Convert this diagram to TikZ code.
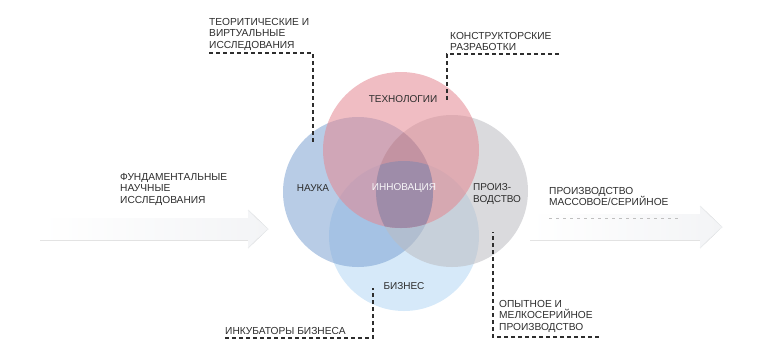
\documentclass[tikz,border=0pt]{standalone}
\usepackage{fontspec}
\setmainfont{Liberation Sans}
\usetikzlibrary{shapes.geometric}
\definecolor{txt}{RGB}{45,45,45}
\definecolor{cTop}{RGB}{228,135,145}
\definecolor{cLeft}{RGB}{125,163,210}
\definecolor{cRight}{RGB}{188,188,193}
\definecolor{cBot}{RGB}{200,226,247}
\definecolor{cCenter}{RGB}{150,140,172}
\definecolor{cLens}{RGB}{178,128,146}
\definecolor{arrowgray}{RGB}{243,244,246}
\definecolor{arrowedge}{RGB}{236,238,240}
\tikzset{
  lab/.style={font=\fontsize{10.2}{11.6}\selectfont, text=txt, align=left, inner sep=0pt, anchor=north west},
  clab/.style={font=\fontsize{10}{12.5}\selectfont, text=txt, align=center, inner sep=0pt},
  leader/.style={draw=txt, line width=1.1pt, dash pattern=on 4pt off 3pt},
  faintleader/.style={draw=black!25, line width=0.6pt, dash pattern=on 3pt off 4pt},
  bigarrow/.style={left color=white, right color=arrowgray, draw=none},
}
\begin{document}
\begin{tikzpicture}[x=1pt,y=-1pt]
\useasboundingbox (0,0) rectangle (764,360);
% faint background arrows
\fill[bigarrow] (40,218) -- (248,218) -- (248,210) -- (268,229) -- (248,248) -- (248,240) -- (40,240) -- cycle;
\draw[arrowedge, line width=0.8pt] (248,210) -- (268,229) -- (248,248);
\fill[bigarrow] (530,214) -- (700,214) -- (700,206) -- (722,227) -- (700,248) -- (700,240) -- (530,240) -- cycle;
\draw[arrowedge, line width=0.8pt] (700,206) -- (722,227) -- (700,248);
% circles
\fill[cBot, fill opacity=0.75] (404,236) circle (75);
\fill[cLeft, fill opacity=0.55] (358,192) circle (75);
\fill[cRight, fill opacity=0.55] (452,191) circle (76);
\fill[cTop, fill opacity=0.55] (401,150) circle (78);
% darker common zone of top, left and right
\begin{scope}
  \clip (358,192) circle (75);
  \clip (452,191) circle (76);
  \clip (401,150) circle (78);
  \fill[cLens, fill opacity=0.4] (300,60) rectangle (500,320);
  \clip (404,236) circle (75);
  \fill[cCenter, fill opacity=0.8] (300,60) rectangle (500,320);
\end{scope}
% labels inside circles
\node[clab] (tech) at (403,99) {ТЕХНОЛОГИИ};
\node[clab] (nauka) at (313,188) {НАУКА};
\node[clab, text=white!92!cCenter] (innov) at (404,188) {ИННОВАЦИЯ};
\node[clab, align=left, anchor=west] (proizv) at (473,194) {ПРОИЗ-\\ВОДСТВО};
\node[clab] (biznes) at (404,286) {БИЗНЕС};
% outer labels
\node[lab] (theo) at (209,18) {ТЕОРИТИЧЕСКИЕ И\\ВИРТУАЛЬНЫЕ\\ИССЛЕДОВАНИЯ};
\node[lab] (konstr) at (450,32) {КОНСТРУКТОРСКИЕ\\РАЗРАБОТКИ};
\node[lab] (fund) at (120,173) {ФУНДАМЕНТАЛЬНЫЕ\\НАУЧНЫЕ\\ИССЛЕДОВАНИЯ};
\node[lab] (prodmass) at (549,187) {ПРОИЗВОДСТВО\\МАССОВОЕ/СЕРИЙНОЕ};
\node[lab] (inkub) at (225,327) {ИНКУБАТОРЫ БИЗНЕСА};
\node[lab] (opyt) at (499,300) {ОПЫТНОЕ И\\МЕЛКОСЕРИЙНОЕ\\ПРОИЗВОДСТВО};
% leader coordinates
\coordinate (t0) at (209,53);
\coordinate (t1) at (313,53);
\coordinate (t2) at (313,142);
\coordinate (k0) at (559,54);
\coordinate (k1) at (447,54);
\coordinate (k2) at (447,101);
\coordinate (i0) at (225,338);
\coordinate (i1) at (373,338);
\coordinate (i2) at (373,288);
\coordinate (o0) at (599,337);
\coordinate (o1) at (493,337);
\coordinate (o2) at (493,232);
\coordinate (m0) at (549,218);
\coordinate (m1) at (680,218);
% leaders
\draw[leader] (t0) -- (t1) -- (t2);
\draw[leader] (k0) -- (k1) -- (k2);
\draw[leader] (i0) -- (i1) -- (i2);
\draw[leader] (o0) -- (o1) -- (o2);
\draw[faintleader] (m0) -- (m1);
\end{tikzpicture}
\end{document}
